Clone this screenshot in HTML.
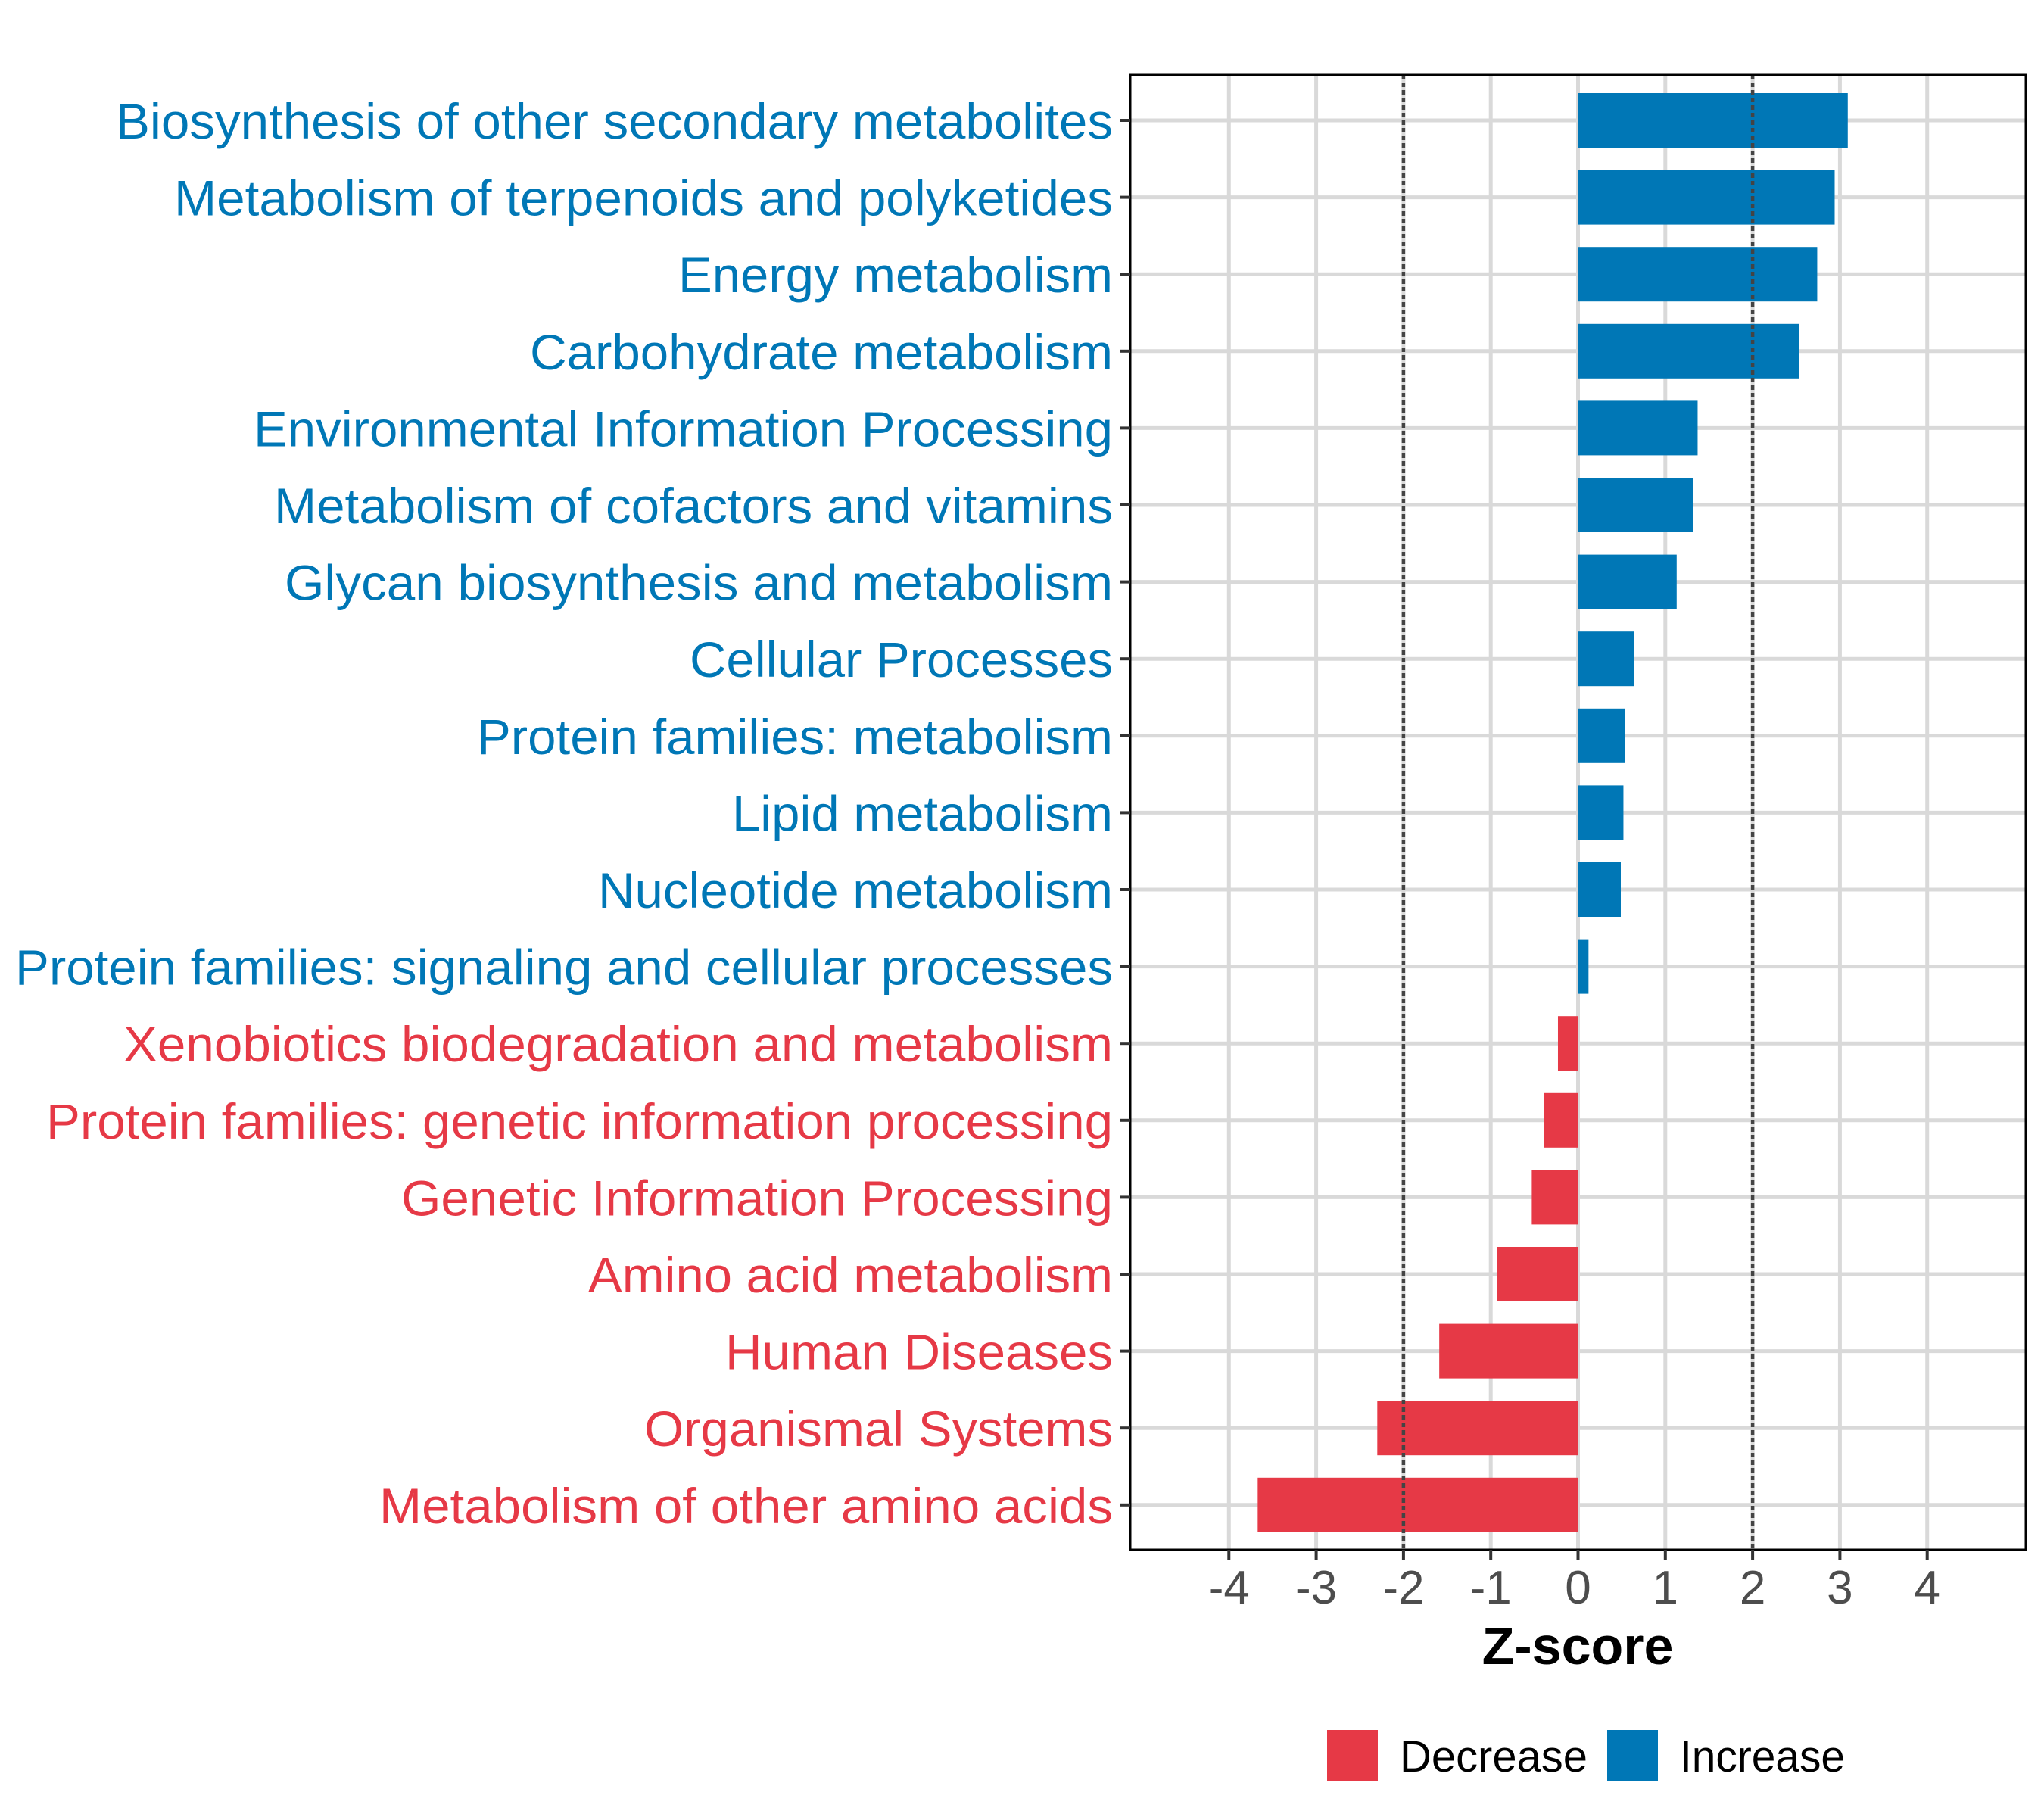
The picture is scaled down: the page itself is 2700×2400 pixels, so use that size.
<!DOCTYPE html>
<html><head><meta charset="utf-8"><style>
html,body{margin:0;padding:0;background:#fff;}
svg{display:block;}
</style></head><body>
<svg id="chart" width="2700" height="2400" viewBox="0 0 2700 2400" xmlns="http://www.w3.org/2000/svg">
<rect width="2700" height="2400" fill="#fff"/>
<g id="grid"></g>
<g id="bars"></g>
<g id="refs"></g>
<rect x="1493" y="99" width="1183" height="1948" fill="none" stroke="#000" stroke-width="3"/>
<g id="yaxis"></g>
<g id="xaxis"></g>
<text x="2084" y="2198" text-anchor="middle" font-family="Liberation Sans, sans-serif" font-weight="bold" font-size="70" fill="#000">Z-score</text>
<g>
<rect x="1753" y="2285" width="67" height="67" fill="#E63946"/>
<text x="1849" y="2340" font-family="Liberation Sans, sans-serif" font-size="58" fill="#000" textLength="248" lengthAdjust="spacingAndGlyphs">Decrease</text>
<rect x="2123" y="2285" width="67" height="67" fill="#0077B6"/>
<text x="2219" y="2340" font-family="Liberation Sans, sans-serif" font-size="58" fill="#000" textLength="218" lengthAdjust="spacingAndGlyphs">Increase</text>
</g>
</svg>
<script>
const categories = ["Biosynthesis of other secondary metabolites","Metabolism of terpenoids and polyketides","Energy metabolism","Carbohydrate metabolism","Environmental Information Processing","Metabolism of cofactors and vitamins","Glycan biosynthesis and metabolism","Cellular Processes","Protein families: metabolism","Lipid metabolism","Nucleotide metabolism","Protein families: signaling and cellular processes","Xenobiotics biodegradation and metabolism","Protein families: genetic information processing","Genetic Information Processing","Amino acid metabolism","Human Diseases","Organismal Systems","Metabolism of other amino acids"];
const zscores = [3.09,2.94,2.74,2.53,1.37,1.32,1.13,0.64,0.54,0.52,0.49,0.12,-0.23,-0.39,-0.53,-0.93,-1.59,-2.30,-3.67];
const xTicks = [-4,-3,-2,-1,0,1,2,3,4];
const xTickLabels = ["-4","-3","-2","-1","0","1","2","3","4"];
const refLines = [-2,2];
const labelWidths = [1317,1240,574,770,1135,1108,1094,559,840,503,680,1450,1307,1409,940,693,512,619,969];

const NS="http://www.w3.org/2000/svg";
const L=1493,R=2676,T=99,B=2047;
const xmin=-5.13,xmax=5.13;
const xs=v=>L+(v-xmin)/(xmax-xmin)*(R-L);
const rowTop=159,rowGap=101.6;
const ys=i=>rowTop+i*rowGap;
const barH=72;
function mk(tag,attrs,parent){const e=document.createElementNS(NS,tag);for(const k in attrs)e.setAttribute(k,attrs[k]);parent.appendChild(e);return e;}
const grid=document.getElementById('grid'),bars=document.getElementById('bars'),refs=document.getElementById('refs'),yax=document.getElementById('yaxis'),xax=document.getElementById('xaxis');
xTicks.forEach((t,i)=>{
  const x=xs(t);
  const g=mk('line',{x1:x,x2:x,y1:T,y2:B,stroke:'#d9d9d9','stroke-width':5},grid);
  
  
  const tk=mk('line',{x1:x,x2:x,y1:B,y2:B+14,stroke:'#333','stroke-width':4},xax);
  
  
  const tl=mk('text',{x:x,y:2118,'text-anchor':'middle','font-family':'Liberation Sans, sans-serif','font-size':62,fill:'#4d4d4d'},xax);
  tl.textContent=xTickLabels[i];
  
  
});
categories.forEach((c,i)=>{
  const y=ys(i);
  const g=mk('line',{x1:L,x2:R,y1:y,y2:y,stroke:'#d9d9d9','stroke-width':5},grid);
  
  
  const v=zscores[i];
  const col=v>=0?'#0077B6':'#E63946';
  const x0=xs(0),x1=xs(v);
  const b=mk('rect',{x:Math.min(x0,x1),y:y-barH/2,width:Math.abs(x1-x0),height:barH,fill:col},bars);
  
  
  const tk=mk('line',{x1:L-14,x2:L,y1:y,y2:y,stroke:'#333','stroke-width':4},yax);
  
  
  const t=mk('text',{x:1470,y:y+24,'text-anchor':'end','font-family':'Liberation Sans, sans-serif','font-size':66,fill:col,textLength:labelWidths[i],lengthAdjust:'spacingAndGlyphs'},yax);
  t.textContent=c;
  
  
});
refLines.forEach(r=>{
  const x=xs(r);
  const l=mk('line',{x1:x,x2:x,y1:T,y2:B,stroke:'#444','stroke-width':4.5,'stroke-dasharray':'6 4'},refs);
  
  
});
</script>
</body></html>
